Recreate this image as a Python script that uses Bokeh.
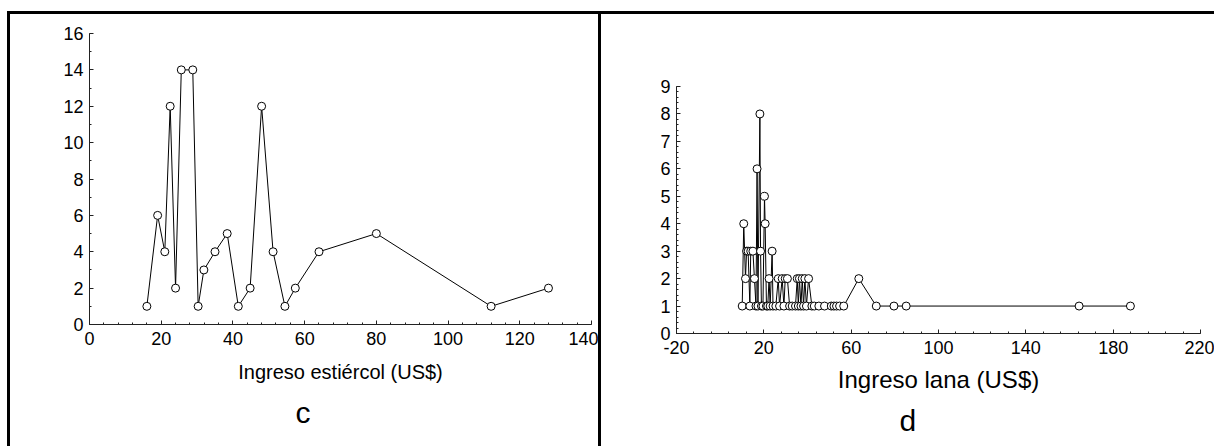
import numpy as np
from bokeh.plotting import figure
from bokeh.layouts import row, column
from bokeh.models import FixedTicker, Range1d, Title
from bokeh.embed import file_html
from bokeh.resources import INLINE

# ---- data (panel c) ----
estiercol_x = [16, 19, 21, 22.5, 24, 25.6, 28.8, 30.3, 31.9, 35, 38.4, 41.5, 44.8,
               48, 51.2, 54.5, 57.4, 64, 80, 112, 128]
estiercol_y = [1, 6, 4, 12, 2, 14, 14, 1, 3, 4, 5, 1, 2, 12, 4, 1, 2, 4, 5, 1, 2]

# ---- data (panel d) ----
lana_x = [10.1, 10.8, 11.6, 12.1, 12.8, 13.6, 14.0, 15.0, 15.7, 16.4, 16.9, 17.3, 18.2,
          18.5, 18.9, 19.6, 20.3, 20.6, 21.2, 21.8, 22.4, 22.9, 23.8, 24.2, 25.5, 26.6,
          27.2, 28.4, 29.2, 29.8, 30.8, 31.8, 33.0, 34.5, 35.3, 35.8, 36.3, 37.0, 37.6,
          38.2, 38.8, 39.5, 40.5, 42.0, 43.1, 45.2, 47.8, 50.9, 52.1, 53.3, 54.7, 56.6,
          63.5, 71.5, 79.6, 85.2, 164.4, 187.9]
lana_y = [1, 4, 2, 3, 3, 1, 3, 3, 2, 1, 6, 1, 8, 3, 1, 1, 5, 4, 1, 1, 2, 1, 3, 1, 1, 2,
          1, 2, 1, 2, 2, 1, 1, 1, 2, 1, 2, 1, 2, 1, 2, 1, 2, 1, 1, 1, 1, 1, 1, 1, 1, 1,
          2, 1, 1, 1, 1, 1]

c_xticks = [0, 20, 40, 60, 80, 100, 120, 140]
c_yticks = [0, 2, 4, 6, 8, 10, 12, 14, 16]
d_xticks = [-20, 20, 60, 100, 140, 180, 220]
d_yticks = [0, 1, 2, 3, 4, 5, 6, 7, 8, 9]

c_xlabel = "Ingreso estiércol (US$)"
d_xlabel = "Ingreso lana (US$)"
c_letter = "c"
d_letter = "d"

FONT = "Liberation Sans"
H = 435


def make(width, xr, yr, bl, br, bt, bb, xlabel, label_size, label_standoff,
         xt, xminor, yt, yminor, styles):
    p = figure(width=width, height=H, x_range=Range1d(*xr), y_range=Range1d(*yr),
               output_backend="svg", toolbar_location=None,
               min_border_left=bl, min_border_right=br, min_border_top=bt,
               min_border_bottom=bb)
    p.grid.visible = False
    p.outline_line_color = None
    p.background_fill_color = "white"
    p.border_fill_color = "white"
    p.xaxis.ticker = FixedTicker(ticks=xt, minor_ticks=xminor)
    p.yaxis.ticker = FixedTicker(ticks=yt, minor_ticks=yminor)
    p.xaxis.major_label_overrides = {t: str(t) for t in xt}
    for ax in (p.xaxis[0], p.yaxis[0]):
        ax.axis_line_color = "#222222"
        ax.axis_line_width = 1
        ax.major_tick_in = 4
        ax.major_tick_out = 0
        ax.minor_tick_in = 2
        ax.minor_tick_out = 0
        ax.major_tick_line_color = "#222222"
        ax.minor_tick_line_color = "#222222"
        ax.major_label_text_font = FONT
        ax.major_label_text_font_size = "18px"
        ax.major_label_text_color = "black"
    p.xaxis.major_label_standoff = 7
    p.yaxis.major_label_standoff = 6
    p.xaxis.axis_label = xlabel
    p.xaxis.axis_label_text_font = FONT
    p.xaxis.axis_label_text_font_size = label_size
    p.xaxis.axis_label_text_font_style = "normal"
    p.xaxis.axis_label_text_color = "black"
    p.xaxis.axis_label_standoff = label_standoff
    p.styles = styles
    return p


pc = make(594, (0, 140), (0, 16), 79, 13, 19, 125, c_xlabel, "20px", 13,
          c_xticks, list(np.arange(0, 141, 4)), c_yticks, list(np.arange(0, 17, 1)),
          {"margin-left": "7px", "margin-top": "11px",
           "border-top": "3px solid black", "border-left": "3px solid black",
           "border-right": "3px solid black"})
pc.line(estiercol_x, estiercol_y, line_color="black", line_width=1)
pc.scatter(estiercol_x, estiercol_y, size=8, marker="circle", fill_color="white",
           line_color="black", line_width=1)
pc.add_layout(Title(text=c_letter, align="left", offset=206, standoff=16,
                    text_font=FONT, text_font_size="30px", text_font_style="normal",
                    text_color="black"),
              "below")

pd_ = make(613, (-20, 220), (0, 9), 75, 14, 72, 116, d_xlabel, "24px", 9,
           d_xticks, list(np.arange(-20, 221, 8)), d_yticks,
           list(np.round(np.arange(0, 9.01, 0.2), 2)),
           {"margin-top": "11px", "border-top": "3px solid black"})
pd_.line(lana_x, lana_y, line_color="black", line_width=1)
pd_.scatter(lana_x, lana_y, size=8, marker="circle", fill_color="white",
            line_color="black", line_width=1)
pd_.add_layout(Title(text=d_letter, align="left", offset=223, standoff=12,
                     text_font=FONT, text_font_size="30px", text_font_style="normal",
                     text_color="black"),
               "below")

layout = row(column(pc), column(pd_), spacing=0)
open("out.html", "w").write(file_html(layout, INLINE))
